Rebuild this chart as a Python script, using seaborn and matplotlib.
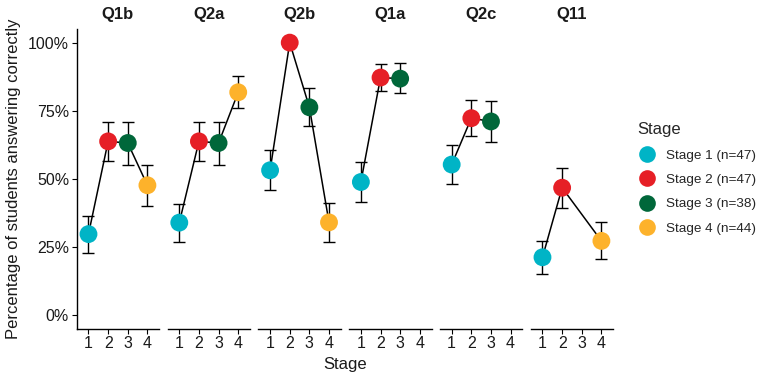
import matplotlib
matplotlib.use("Agg")
import matplotlib.pyplot as plt
from matplotlib.lines import Line2D
from matplotlib.ticker import FuncFormatter
import seaborn as sns
import pandas as pd
import numpy as np

sns.set_theme(style="white")
plt.rcParams['font.family'] = ['Liberation Sans', 'DejaVu Sans']

questions = ["Q1b", "Q2a", "Q2b", "Q1a", "Q2c", "Q11"]
stage_labels = ["Stage 1 (n=47)", "Stage 2 (n=47)", "Stage 3 (n=38)", "Stage 4 (n=44)"]
palette = ["#00B4C6", "#E61F26", "#00673A", "#FDB22B"]

# percent correct per question, stages 1-4 (None = not asked)
q1b = [29.8, 63.8, 63.2, 47.7]
q2a = [34.0, 63.8, 63.2, 81.8]
q2b = [53.2, 100.0, 76.3, 34.1]
q1a = [48.9, 87.2, 86.8, None]
q2c = [55.3, 72.3, 71.1, None]
q11 = [21.3, 46.8, None, 27.3]

# error bar lower / upper bounds
q1b_lo = [23.0, 56.7, 55.3, 40.0]
q1b_hi = [36.3, 70.8, 70.9, 55.2]
q2a_lo = [26.9, 56.7, 55.3, 75.9]
q2a_hi = [40.9, 70.8, 70.9, 87.6]
q2b_lo = [45.8, 100.0, 69.4, 26.9]
q2b_hi = [60.6, 100.0, 83.3, 41.3]
q1a_lo = [41.6, 82.4, 81.4, None]
q1a_hi = [56.2, 92.1, 92.4, None]
q2c_lo = [48.0, 65.7, 63.6, None]
q2c_hi = [62.5, 78.9, 78.5, None]
q11_lo = [15.2, 39.5, None, 20.5]
q11_hi = [27.2, 54.1, None, 34.1]

vals = [q1b, q2a, q2b, q1a, q2c, q11]
los = [q1b_lo, q2a_lo, q2b_lo, q1a_lo, q2c_lo, q11_lo]
his = [q1b_hi, q2a_hi, q2b_hi, q1a_hi, q2c_hi, q11_hi]

rows = []
for q, v, lo, hi in zip(questions, vals, los, his):
    for i in range(4):
        if v[i] is not None:
            rows.append(dict(question=q, stage=i + 1, label=stage_labels[i],
                             pct=v[i], lo=lo[i], hi=hi[i]))
df = pd.DataFrame(rows)

W, H = 763, 376
fig = plt.figure(figsize=(W / 100, H / 100), dpi=100)

ax_left0 = 76.7
ax_w = 82.5
step = 90.8
ax_top = 29
ax_bot = 329

pal_map = dict(zip(stage_labels, palette))
txt = "#1a1a1a"

for k, q in enumerate(questions):
    left = (ax_left0 + k * step) / W
    ax = fig.add_axes([left, (H - ax_bot) / H, ax_w / W, (ax_bot - ax_top) / H])
    d = df[df.question == q].sort_values("stage")
    sns.lineplot(data=d, x="stage", y="pct", color="black", lw=1.1, ax=ax,
                 estimator=None, sort=True, zorder=1)
    ax.errorbar(d["stage"], d["pct"],
                yerr=[d["pct"] - d["lo"], d["hi"] - d["pct"]],
                fmt="none", ecolor="black", elinewidth=1.0, capsize=4,
                capthick=1.0, zorder=2)
    sns.scatterplot(data=d, x="stage", y="pct", hue="label", palette=pal_map,
                    s=165, edgecolor="none", linewidth=0, ax=ax, legend=False,
                    zorder=3)
    ax.set_xlim(0.4, 4.6)
    ax.set_ylim(-5, 105)
    ax.set_xticks([1, 2, 3, 4])
    ax.set_xticklabels(["1", "2", "3", "4"], fontsize=11.5, color=txt)
    ax.set_xlabel("")
    ax.set_ylabel("")
    for s in ["top", "right"]:
        ax.spines[s].set_visible(False)
    ax.spines["bottom"].set_color("black")
    ax.spines["bottom"].set_linewidth(1.0)
    ax.tick_params(axis="x", length=3.5, width=0.8, color="black", pad=1.5,
                   bottom=True)
    if k == 0:
        ax.spines["left"].set_color("black")
        ax.spines["left"].set_linewidth(1.0)
        ax.set_yticks([0, 25, 50, 75, 100])
        ax.yaxis.set_major_formatter(FuncFormatter(lambda v, p: f"{int(v)}%"))
        ax.tick_params(axis="y", length=3.5, width=0.8, color="black", pad=2,
                       left=True, labelsize=11.5, labelcolor=txt)
    else:
        ax.spines["left"].set_visible(False)
        ax.set_yticks([])
    ax.grid(False)
    ax.set_facecolor("white")
    fig.text((ax_left0 + k * step + ax_w / 2) / W, 1 - 15 / H, q,
             ha="center", va="center", fontsize=12, fontweight="bold",
             color=txt)

fig.text(14 / W, 1 - 179 / H, "Percentage of students answering correctly",
         rotation=90, ha="center", va="center", fontsize=12, color=txt)
fig.text(345 / W, 1 - 364 / H, "Stage", ha="center", va="center",
         fontsize=12, color=txt)

handles = [Line2D([0], [0], marker="o", ls="none", markersize=12,
                  markerfacecolor=c, markeredgecolor="none") for c in palette]
fig.legend(handles, stage_labels, title="Stage", loc="upper left",
           bbox_to_anchor=(632 / W, 1 - 117 / H), frameon=False,
           fontsize=9.7, title_fontsize=12, alignment="left",
           handletextpad=0.6, labelspacing=0.88, handlelength=1.5,
           borderaxespad=0)

fig.savefig("out.png", dpi=100)
